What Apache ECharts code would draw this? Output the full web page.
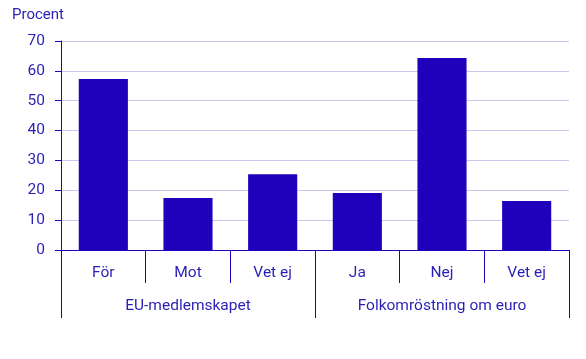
<!DOCTYPE html>
<html><head><meta charset="utf-8">
<script src="https://cdn.jsdelivr.net/npm/echarts@6/dist/echarts.min.js"></script>
<style>html,body{margin:0;padding:0;background:#fff}#c{width:586px;height:359px}</style>
</head><body><div id="c"></div>
<script>
var categories = ['För', 'Mot', 'Vet ej', 'Ja', 'Nej', 'Vet ej'];
var groups = ['EU-medlemskapet', 'Folkomröstning om euro'];
var values = [57.3, 17.4, 25.4, 19.1, 64.3, 16.4];
var yTicks = [0, 10, 20, 30, 40, 50, 60, 70];

var blue = '#1e00be';
var textBlue = '#2a1fb5';
var font = 'Roboto';
var chart = echarts.init(document.getElementById('c'));
chart.setOption({
  animation: false,
  textStyle: { fontFamily: font },
  graphic: [{ type: 'text', left: 12, top: 8, style: { text: 'Procent', fill: textBlue, font: '15px Roboto' } }],
  grid: { left: 61, right: 17, top: 41, bottom: 109, containLabel: false },
  xAxis: [{
    type: 'category', data: categories, position: 'bottom',
    axisLine: { show: true, lineStyle: { color: blue, width: 1 } },
    axisTick: { show: true, length: 33, interval: 0, lineStyle: { color: blue } },
    axisLabel: { color: textBlue, fontSize: 15.5, margin: 15, fontFamily: font, interval: 0 }
  }, {
    type: 'category', data: groups, position: 'bottom',
    axisLine: { show: false },
    axisTick: { show: true, length: 68, interval: 0, lineStyle: { color: blue } },
    axisLabel: { color: textBlue, fontSize: 15.5, margin: 48, fontFamily: font, interval: 0 }
  }],
  yAxis: {
    type: 'value', min: 0, max: 70, interval: 10,
    axisLine: { show: true, lineStyle: { color: blue } },
    axisTick: { show: true, length: 6, lineStyle: { color: blue } },
    axisLabel: { color: textBlue, fontSize: 15.5, margin: 16, fontFamily: font,
      formatter: function (v) { return yTicks.indexOf(v) >= 0 ? String(v) : ''; } },
    splitLine: { show: true, lineStyle: { color: '#cbc6ee', width: 1 } }
  },
  series: [{
    type: 'bar', data: values, xAxisIndex: 0, barWidth: '58%',
    itemStyle: { color: '#1f00bb' }
  }]
});
</script></body></html>
